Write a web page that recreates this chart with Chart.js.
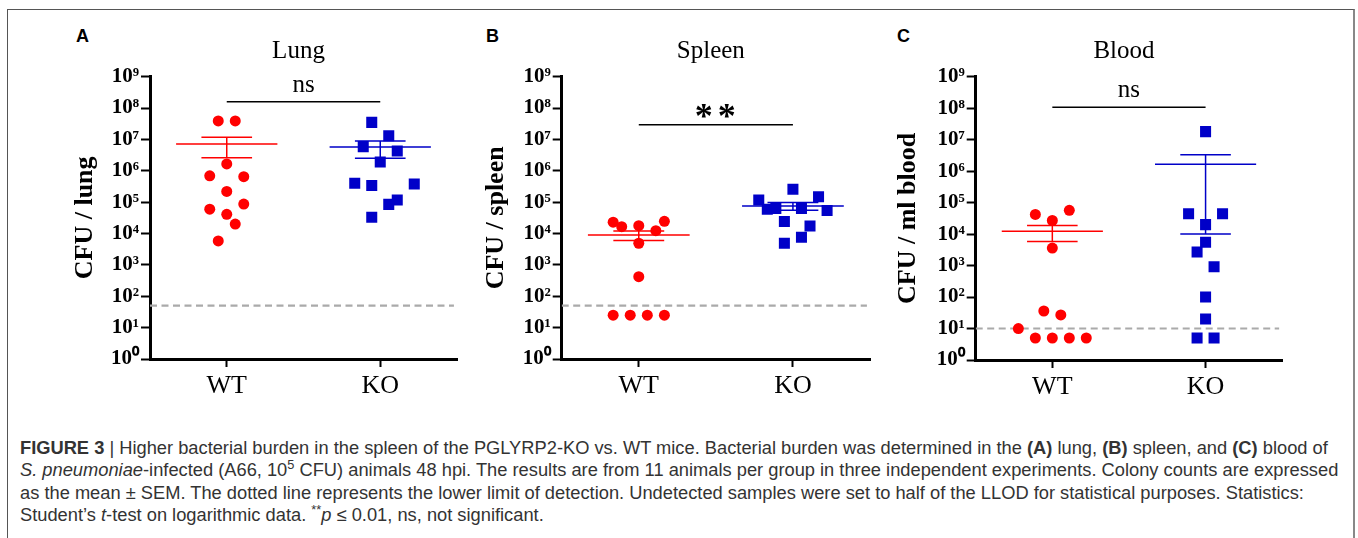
<!DOCTYPE html>
<html>
<head>
<meta charset="utf-8">
<script src="https://cdn.jsdelivr.net/npm/chart.js@4.4.1/dist/chart.umd.min.js"></script>
<style>
body{margin:0;background:#fff;width:1358px;height:538px;overflow:hidden;position:relative;font-family:"Liberation Sans",Arial,sans-serif}
#frame{position:absolute;left:7px;top:9px;width:1345px;height:540px;border-left:1px solid #555;border-top:1px solid #555;border-right:2px solid #888}
.panel{position:absolute;top:20px;width:410px;height:390px}
.letter{position:absolute;top:26px;font:bold 18px "Liberation Sans",Arial,sans-serif;color:#000}
#caption{position:absolute;left:20px;top:437px;color:#333;line-height:22.4px;white-space:nowrap;font-size:16px}
#caption div{white-space:nowrap}
</style>
</head>
<body>
<div id="frame"></div>
<div class="letter" style="left:76px">A</div>
<div class="letter" style="left:486px">B</div>
<div class="letter" style="left:897px">C</div>
<div class="panel" style="left:60px"><canvas id="lung"></canvas></div>
<div class="panel" style="left:470px"><canvas id="spleen"></canvas></div>
<div class="panel" style="left:880px"><canvas id="blood"></canvas></div>
<div id="caption">
<div id="cap1"><b>FIGURE 3</b> | Higher bacterial burden in the spleen of the PGLYRP2-KO vs. WT mice. Bacterial burden was determined in the <b>(A)</b> lung, <b>(B)</b> spleen, and <b>(C)</b> blood of</div>
<div><i>S. pneumoniae</i>-infected (A66, 10<sup style="font-size:70%;line-height:0">5</sup> CFU) animals 48 hpi. The results are from 11 animals per group in three independent experiments. Colony counts are expressed</div>
<div>as the mean ± SEM. The dotted line represents the lower limit of detection. Undetected samples were set to half of the LLOD for statistical purposes. Statistics:</div>
<div>Student’s <i>t</i>-test on logarithmic data. <sup style="font-size:70%;line-height:0">**</sup><i>p</i> ≤ 0.01, ns, not significant.</div>
</div>
<script>
const groups = ["WT", "KO"]
const xTicks = [1, 2]
const yTicks = [1, 10, 100, 1e3, 1e4, 1e5, 1e6, 1e7, 1e8, 1e9]
const yTickLabels = ["10⁰","10¹","10²","10³","10⁴","10⁵","10⁶","10⁷","10⁸","10⁹"]

// lung
const lungWT = [3.9e7, 3.9e7, 1.65e6, 6.9e5, 6.5e5, 2.2e5, 6.0e4, 8.7e4, 4.1e4, 2.0e4, 5.8e3]
const lungWTSlot = [-1, 1, 0, -2, 2, 0, -2, 2, 0, 1, -1]
const lungKO = [3.5e7, 1.3e7, 5.9e6, 4.3e6, 1.9e6, 4.0e5, 3.4e5, 3.8e5, 1.17e5, 8.5e4, 3.3e4]
const lungKOSlot = [-1, 1, -2, 2, 0, -3, -1, 4, 2, 1, -1]
const lungMean = [7.2e6, 5.7e6]
const lungSem = [4.6e6, 3.2e6]

// spleen
const spleenWT = [2.3e4, 1.66e4, 1.78e4, 2.45e4, 1.23e4, 4.9e3, 4.2e2, 25, 25, 25, 25]
const spleenWTSlot = [-3, -2, 0, 3, 2, 0, 0, -3, -1, 1, 3]
const spleenKO = [1.17e5, 2.6e5, 1.5e5, 5.9e4, 6.3e4, 6.3e4, 5.4e4, 2.4e4, 1.74e4, 7.6e3, 4.9e3]
const spleenKOSlot = [-4, 0, 3, -3, -2, 1, 4, -1, 2, 1, -1]
const spleenMean = [9.0e3, 7.6e4]
const spleenSem = [3.0e3, 2.1e4]

// blood
const bloodWT = [4.2e4, 5.7e4, 2.7e4, 3.6e3, 36, 27, 10, 5, 5, 5, 5]
const bloodWTSlot = [-2, 2, 0, 0, -1, 1, -4, -2, 0, 2, 4]
const bloodKO = [1.8e7, 4.4e4, 4.4e4, 2.0e4, 5.5e3, 2.7e3, 910, 100, 20, 5, 5]
const bloodKOSlot = [0, -2, 2, 0, 0, -1, 1, 0, 0, -1, 1]
const bloodMean = [1.23e4, 1.66e6]
const bloodSem = [6.5e3, 1.65e6]

const llod = [50, 50, 10]
const sigLevel = [1.6e8, 2.95e7, 1.07e8]
const sigText = ["ns", "**", "ns"]
const titles = ["Lung", "Spleen", "Blood"]
const yTitles = ["CFU / lung", "CFU / spleen", "CFU / ml blood"]

const red = "#ff0000"
const blue = "#0000c8"
const serif = "'Liberation Serif','Times New Roman',serif"
const slotStep = 0.0554

function pts(values, slots, centre){
  return values.map((v,i)=>({x:centre+slots[i]*slotStep, y:v}))
}

function meanBar(centre, m, s){
  let gap = {x:centre, y:null}
  return [
    {x:centre-0.33,y:m},{x:centre+0.33,y:m},gap,
    {x:centre-0.165,y:m+s},{x:centre+0.165,y:m+s},gap,
    {x:centre-0.165,y:m-s},{x:centre+0.165,y:m-s},gap,
    {x:centre,y:m+s},{x:centre,y:m-s}
  ]
}

const textPlugin = {
  id:"panelText",
  afterDraw(chart){
    let o = chart.options.plugins.panelText
    let ctx = chart.ctx
    let a = chart.chartArea
    ctx.save()
    ctx.fillStyle = "#000"
    ctx.textAlign = "center"
    ctx.textBaseline = "middle"
    ctx.font = "25px " + serif
    ctx.fillText(o.title, (a.left+a.right)/2 - 5, 31)
    let yb = chart.scales.y.getPixelForValue(o.sigLevel)
    let xm = (chart.scales.x.getPixelForValue(1)+chart.scales.x.getPixelForValue(2))/2
    ctx.textBaseline = "alphabetic"
    if(o.sig.includes("*")){
      ctx.font = "bold 36px " + serif
      ctx.letterSpacing = "5px"
      ctx.fillText(o.sig, xm + 2, yb + 3)
    }else{
      ctx.font = "25px " + serif
      ctx.fillText(o.sig, xm, yb - 10)
    }
    ctx.restore()
  }
}

function makePanel(id, k, wt, wtSlot, ko, koSlot, mean, sem, geo){
  let canvasW = 410, canvasH = 390
  new Chart(document.getElementById(id),{
    type:"scatter",
    data:{
      datasets:[
        {data:meanBar(1, mean[0], sem[0]), showLine:true, borderColor:red, borderWidth:1.5, pointRadius:0, spanGaps:false},
        {data:meanBar(2, mean[1], sem[1]), showLine:true, borderColor:blue, borderWidth:1.5, pointRadius:0, spanGaps:false},
        {data:pts(wt, wtSlot, 1), pointStyle:"circle", pointRadius:5.5, backgroundColor:red, pointBorderWidth:0, borderColor:red},
        {data:pts(ko, koSlot, 2), pointStyle:"rect", pointRadius:7.8, backgroundColor:blue, pointBorderWidth:0, borderColor:blue},
        {data:[{x:1,y:sigLevel[k]},{x:2,y:sigLevel[k]}], showLine:true, borderColor:"#000", borderWidth:1.5, pointRadius:0},
        {data:[{x:0.5,y:llod[k]},{x:2.48,y:llod[k]}], showLine:true, borderColor:"#aaaaaa", borderWidth:2.2, borderDash:[7,4.5], pointRadius:0}
      ]
    },
    options:{
      responsive:true,
      maintainAspectRatio:false,
      animation:false,
      layout:{padding:{top:geo.top-20, right:canvasW-(geo.right-geo.left), bottom:0, left:0}},
      plugins:{
        legend:{display:false},
        tooltip:{enabled:false},
        panelText:{title:titles[k], sig:sigText[k], sigLevel:sigLevel[k]}
      },
      scales:{
        x:{
          type:"linear", min:0.5, max:2.5,
          afterBuildTicks:s=>{s.ticks = xTicks.map(v=>({value:v}))},
          afterFit:s=>{s.height = canvasH-(geo.bottom-20)},
          ticks:{callback:(v,i)=>groups[i], autoSkip:false, color:"#000", font:{family:serif, size:26}, padding:4, maxRotation:0},
          grid:{drawOnChartArea:false, drawTicks:true, tickLength:8, tickWidth:2, tickColor:"#000"},
          border:{display:true, width:3, color:"#000"}
        },
        y:{
          type:"logarithmic", min:1, max:1e9,
          afterBuildTicks:s=>{s.ticks = yTicks.map(v=>({value:v}))},
          afterFit:s=>{s.width = geo.axis-geo.left},
          ticks:{callback:(v,i)=>yTickLabels[i], autoSkip:false, color:"#000", font:{family:serif, size:21, weight:"bold"}, padding:2},
          grid:{drawOnChartArea:false, drawTicks:true, tickLength:9, tickWidth:2, tickColor:"#000"},
          border:{display:true, width:3, color:"#000"},
          title:{display:true, text:yTitles[k], color:"#000", font:{family:serif, size:26, weight:"bold"}, padding:{top:geo.titleX-geo.left-15.6, bottom:0}}
        }
      }
    },
    plugins:[textPlugin]
  })
}

makePanel("lung", 0, lungWT, lungWTSlot, lungKO, lungKOSlot, lungMean, lungSem,
  {left:60, axis:150, right:457, top:76.7, bottom:359, titleX:85})
makePanel("spleen", 1, spleenWT, spleenWTSlot, spleenKO, spleenKOSlot, spleenMean, spleenSem,
  {left:470, axis:561.7, right:870, top:76.7, bottom:359, titleX:496})
makePanel("blood", 2, bloodWT, bloodWTSlot, bloodKO, bloodKOSlot, bloodMean, bloodSem,
  {left:880, axis:975.7, right:1286, top:76.7, bottom:360, titleX:908})

// fit caption width to the reference line length
let cap = document.getElementById("caption")
let w = document.getElementById("cap1").getBoundingClientRect().width
cap.style.fontSize = (16*1320/w).toFixed(2)+"px"
</script>
</body>
</html>
